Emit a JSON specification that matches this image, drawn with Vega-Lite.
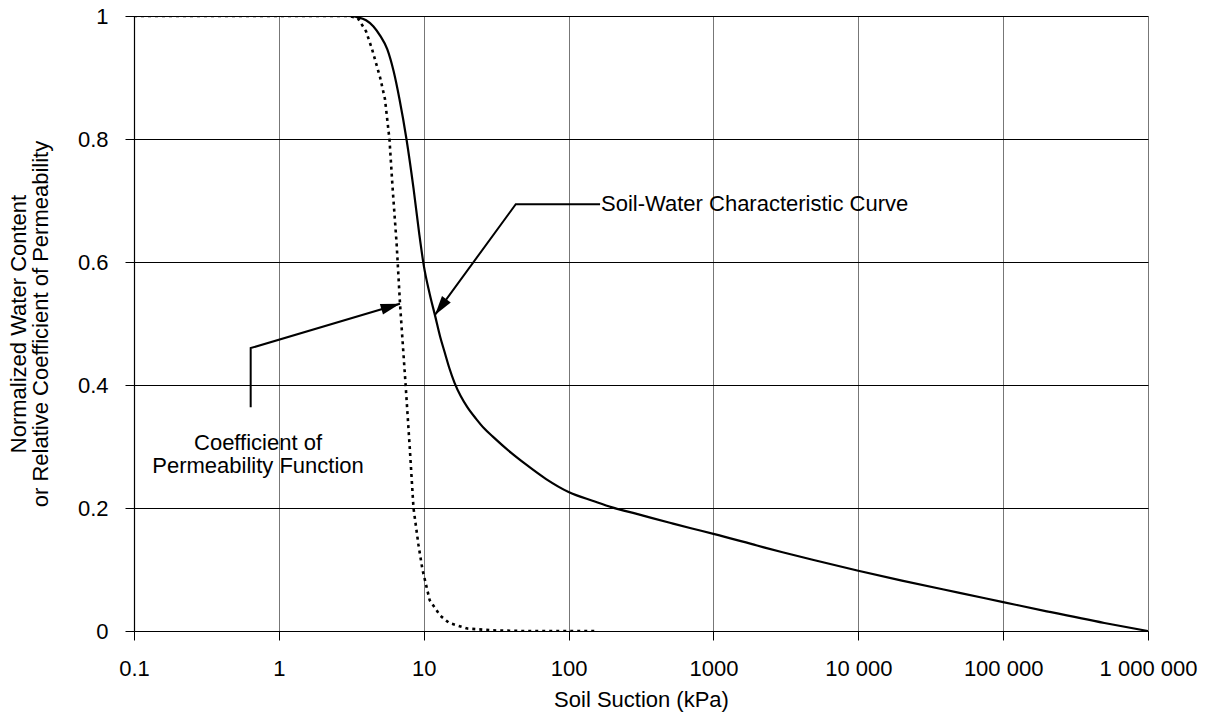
{
  "$schema": "https://vega.github.io/schema/vega-lite/v6.json",
  "width": 1014,
  "height": 615,
  "autosize": {"type": "none"},
  "padding": {"left": 134, "top": 16, "right": 63, "bottom": 92},
  "background": "white",
  "config": {"view": {"stroke": null}, "font": "Liberation Sans"},
  "datasets": {
    "swcc": [
      {"suction": 0.1, "value": 1}, {"suction": 1, "value": 1}, {"suction": 3, "value": 1},
      {"suction": 3.5, "value": 0.998}, {"suction": 4, "value": 0.993}, {"suction": 4.5, "value": 0.983},
      {"suction": 5, "value": 0.968}, {"suction": 5.6, "value": 0.946}, {"suction": 6.2, "value": 0.91},
      {"suction": 6.8, "value": 0.865}, {"suction": 7.6, "value": 0.8}, {"suction": 8.5, "value": 0.72},
      {"suction": 9.3, "value": 0.647}, {"suction": 10, "value": 0.595}, {"suction": 11, "value": 0.548},
      {"suction": 12, "value": 0.512}, {"suction": 13, "value": 0.478}, {"suction": 14, "value": 0.452},
      {"suction": 15, "value": 0.428}, {"suction": 16.3, "value": 0.404}, {"suction": 18, "value": 0.382},
      {"suction": 20, "value": 0.364}, {"suction": 23, "value": 0.345}, {"suction": 26, "value": 0.33},
      {"suction": 30, "value": 0.316}, {"suction": 40, "value": 0.29}, {"suction": 50, "value": 0.272},
      {"suction": 70, "value": 0.247}, {"suction": 100, "value": 0.226}, {"suction": 150, "value": 0.211},
      {"suction": 200, "value": 0.201}, {"suction": 300, "value": 0.19}, {"suction": 500, "value": 0.176},
      {"suction": 700, "value": 0.167}, {"suction": 1000, "value": 0.158}, {"suction": 2000, "value": 0.139},
      {"suction": 3000, "value": 0.128}, {"suction": 5000, "value": 0.115}, {"suction": 10000, "value": 0.098},
      {"suction": 20000, "value": 0.082}, {"suction": 50000, "value": 0.062}, {"suction": 100000, "value": 0.047},
      {"suction": 200000, "value": 0.032}, {"suction": 500000, "value": 0.013}, {"suction": 1000000, "value": 0}
    ],
    "perm": [
      {"suction": 0.1, "value": 1}, {"suction": 3, "value": 1}, {"suction": 3.5, "value": 0.997},
      {"suction": 4, "value": 0.975}, {"suction": 4.4, "value": 0.946}, {"suction": 5, "value": 0.9},
      {"suction": 5.4, "value": 0.865}, {"suction": 5.8, "value": 0.8}, {"suction": 6.1, "value": 0.72},
      {"suction": 6.5, "value": 0.63}, {"suction": 6.86, "value": 0.532}, {"suction": 7.5, "value": 0.4},
      {"suction": 8, "value": 0.3}, {"suction": 8.5, "value": 0.2}, {"suction": 9.2, "value": 0.14},
      {"suction": 9.8, "value": 0.1}, {"suction": 11, "value": 0.05}, {"suction": 13, "value": 0.025},
      {"suction": 15, "value": 0.013}, {"suction": 20, "value": 0.004}, {"suction": 30, "value": 0.001},
      {"suction": 50, "value": 0}, {"suction": 160, "value": 0}
    ],
    "lead": [
      {"id": "swcc", "seq": 1, "suction": 165, "value": 0.694},
      {"id": "swcc", "seq": 2, "suction": 43.2, "value": 0.694},
      {"id": "swcc", "seq": 3, "suction": 11.96, "value": 0.514},
      {"id": "perm", "seq": 1, "suction": 0.639, "value": 0.364},
      {"id": "perm", "seq": 2, "suction": 0.639, "value": 0.46},
      {"id": "perm", "seq": 3, "suction": 6.86, "value": 0.532}
    ],
    "headSwcc": [{"suction": 11.96, "value": 0.514}],
    "headPerm": [{"suction": 6.86, "value": 0.532}],
    "labelSwcc": [{"suction": 167.5, "value": 0.694, "text": "Soil-Water Characteristic Curve"}],
    "labelPerm": [
      {"suction": 0.718, "value": 0.306, "text": "Coefficient of"},
      {"suction": 0.718, "value": 0.268, "text": "Permeability Function"}
    ]
  },
  "encoding": {
    "x": {
      "field": "suction", "type": "quantitative",
      "scale": {"type": "log", "domain": [0.1, 1000000], "nice": false},
      "axis": {
        "values": [0.1, 1, 10, 100, 1000, 10000, 100000, 1000000],
        "labelExpr": "datum.value >= 10000 ? replace(replace(format(datum.value, ','), ',', ' '), ',', ' ') : format(datum.value, '~g')",
        "grid": true, "gridColor": "#777", "gridWidth": 1, "gridOpacity": 1,
        "domainColor": "#000", "domainWidth": 1.2,
        "tickColor": "#000", "tickSize": 9, "tickWidth": 1,
        "labelFontSize": 22, "labelColor": "#000", "labelPadding": 18, "labelFlush": false,
        "title": "Soil Suction (kPa)", "titleFontSize": 22, "titleFontWeight": "normal", "titleColor": "#000",
        "titlePadding": 10
      }
    },
    "y": {
      "field": "value", "type": "quantitative",
      "scale": {"domain": [0, 1], "nice": false, "zero": true},
      "axis": {
        "values": [0, 0.2, 0.4, 0.6, 0.8, 1],
        "format": "~g",
        "grid": true, "gridColor": "#000", "gridWidth": 1.2, "gridOpacity": 1,
        "domainColor": "#000", "domainWidth": 1.2,
        "tickColor": "#000", "tickSize": 9, "tickWidth": 1,
        "labelFontSize": 22, "labelColor": "#000", "labelPadding": 17,
        "title": ["Normalized Water Content", "or Relative Coefficient of Permeability"],
        "titleFontSize": 22, "titleFontWeight": "normal", "titleColor": "#000",
        "titlePadding": 25, "titleLineHeight": 22
      }
    }
  },
  "layer": [
    {
      "data": {"name": "perm"},
      "mark": {"type": "line", "color": "#000", "strokeWidth": 2.6, "strokeDash": [3, 4], "clip": true},
      "encoding": {}
    },
    {
      "data": {"name": "swcc"},
      "mark": {"type": "line", "color": "#000", "strokeWidth": 2.2, "clip": true, "interpolate": "monotone"},
      "encoding": {}
    },
    {
      "data": {"name": "lead"},
      "mark": {"type": "line", "color": "#000", "strokeWidth": 2},
      "encoding": {
        "detail": {"field": "id", "type": "nominal"},
        "order": {"field": "seq", "type": "quantitative"}
      }
    },
    {
      "data": {"name": "headSwcc"},
      "mark": {"type": "point", "shape": "M0,0 L-0.28,1 L0.28,1 Z", "filled": true, "color": "#000", "opacity": 1, "size": 1500, "angle": 216},
      "encoding": {}
    },
    {
      "data": {"name": "headPerm"},
      "mark": {"type": "point", "shape": "M0,0 L-0.28,1 L0.28,1 Z", "filled": true, "color": "#000", "opacity": 1, "size": 1500, "angle": 73.5},
      "encoding": {}
    },
    {
      "data": {"name": "labelSwcc"},
      "mark": {"type": "text", "align": "left", "baseline": "middle", "fontSize": 22, "color": "#000"},
      "encoding": {"text": {"field": "text"}}
    },
    {
      "data": {"name": "labelPerm"},
      "mark": {"type": "text", "align": "center", "baseline": "middle", "fontSize": 22, "color": "#000"},
      "encoding": {"text": {"field": "text"}}
    }
  ]
}
